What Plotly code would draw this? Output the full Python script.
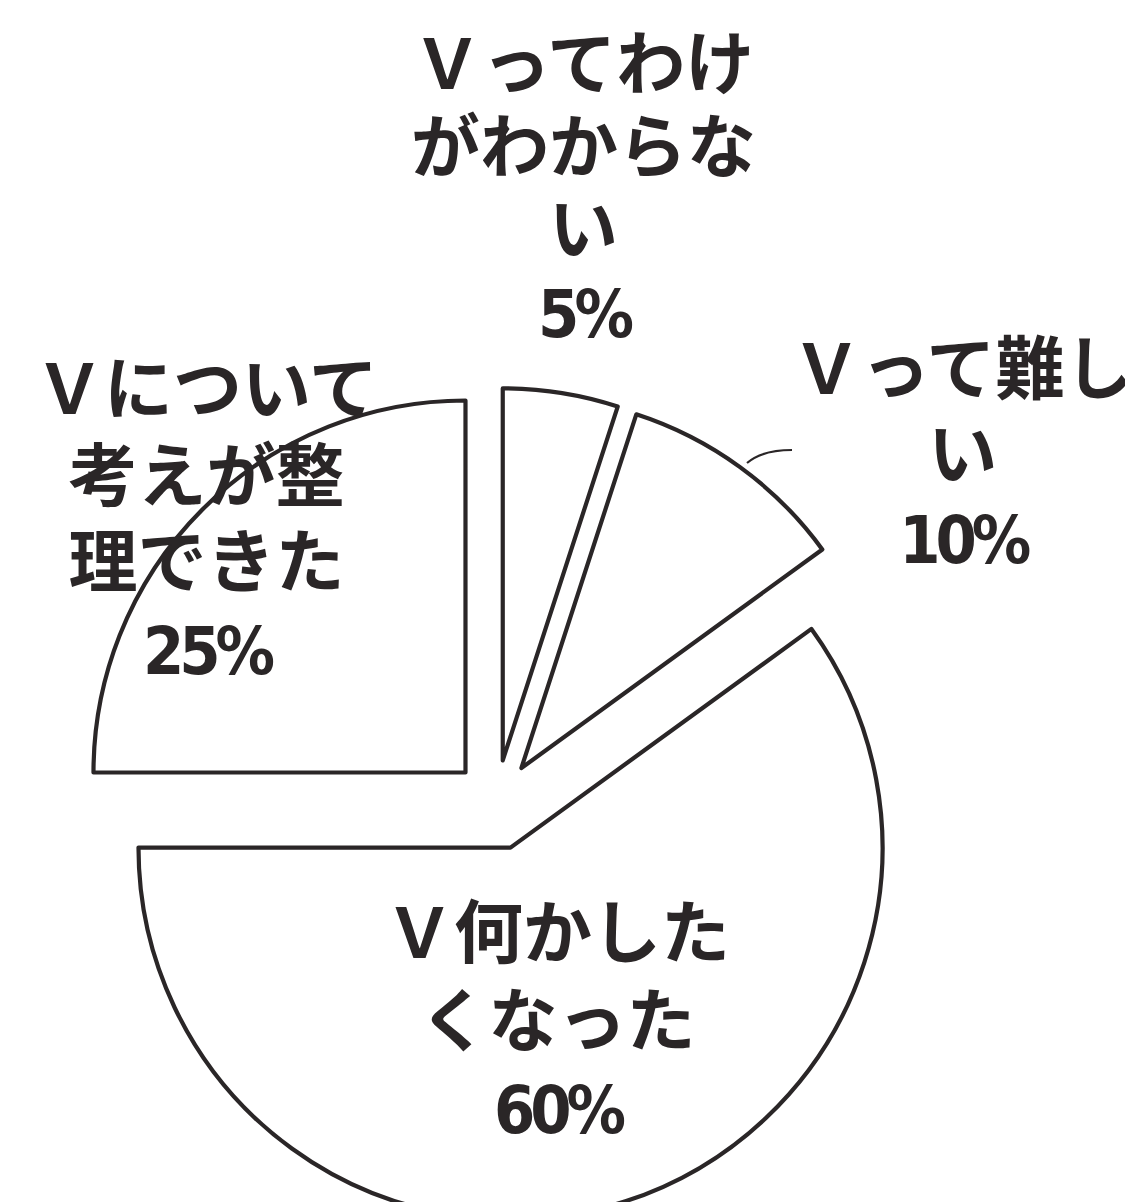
import plotly.graph_objects as go

# ---- data ----
categories = ["Ｖってわけがわからない", "Ｖって難しい", "Ｖ何かしたくなった", "Ｖについて考えが整理できた"]
label_lines = [
    ["Ｖってわけ", "がわからな", "い"],
    ["Ｖって難し", "い"],
    ["Ｖ何かした", "くなった"],
    ["Ｖについて", "考えが整", "理できた"],
]
values = [5, 10, 60, 25]
pct_labels = ["5%", "10%", "60%", "25%"]

# ---- styling / layout ----
OFF = 8                      # page offset of the figure (body margin)
W, H = 1133 - OFF, 1225
explode = [0.116, 0.116, 0.126, 0.116]
R = 372.0
CX, CY = 496.0 - OFF, 803.0 - OFF
half = R * (1 + max(explode))

dom_x = [(CX - half) / W, (CX + half) / W]
dom_y = [(H - (CY + half)) / H, (H - (CY - half)) / H]

INK = "#2a2627"
CJK = "Noto Sans CJK JP, Noto Sans CJK SC, sans-serif"
NUM = "'DejaVu Sans Condensed', 'Liberation Sans Narrow', sans-serif"


def px_x(vx):
    return (vx - OFF) / W


def px_y(vy):
    return 1 - (vy - OFF) / H


# label placement in window pixels: center x, first-line y, last-line y
label_pos = [(583, 63, 311), (963, 368, 537), (557, 932, 1107), (206, 388, 648)]
BLOCK_DY = -6

fig = go.Figure(go.Pie(
    labels=categories,
    values=values,
    sort=False,
    direction="clockwise",
    rotation=0,
    pull=explode,
    textinfo="none",
    hoverinfo="label+percent",
    marker=dict(colors=["white"] * len(values), line=dict(color=INK, width=4.2)),
    domain=dict(x=dom_x, y=dom_y),
    showlegend=False,
))

annotations = []
for lines, pct, (vx, y_first, y_last) in zip(label_lines, pct_labels, label_pos):
    n = len(lines) + 1
    pitch = (y_last - y_first) / (n - 1)
    base = pitch / 1.3          # plotly line spacing is 1.3 em
    parts = ['<span style="font-size:69px">' + t + '</span>' for t in lines]
    parts.append('<span style="font-family:' + NUM + ';font-size:66px;letter-spacing:-5px">'
                 + pct + '</span>')
    annotations.append(dict(
        x=px_x(vx), y=px_y((y_first + y_last) / 2 + BLOCK_DY), xref="paper", yref="paper",
        text="<br>".join(parts), showarrow=False, xanchor="center", yanchor="middle",
        align="center",
        font=dict(family=CJK, size=base, color=INK, weight=700),
    ))

# short leader line for the 10% label
p0 = (747, 463); pc = (762, 450); p1 = (792, 450)
path = "M {:.5f},{:.5f} Q {:.5f},{:.5f} {:.5f},{:.5f}".format(
    px_x(p0[0]), px_y(p0[1]), px_x(pc[0]), px_y(pc[1]), px_x(p1[0]), px_y(p1[1]))

fig.update_layout(
    width=W, height=H,
    margin=dict(l=0, r=0, t=0, b=0),
    paper_bgcolor="white",
    plot_bgcolor="white",
    annotations=annotations,
    shapes=[dict(type="path", path=path, xref="paper", yref="paper",
                 line=dict(color=INK, width=2.2))],
)

fig.write_html("out.html")
